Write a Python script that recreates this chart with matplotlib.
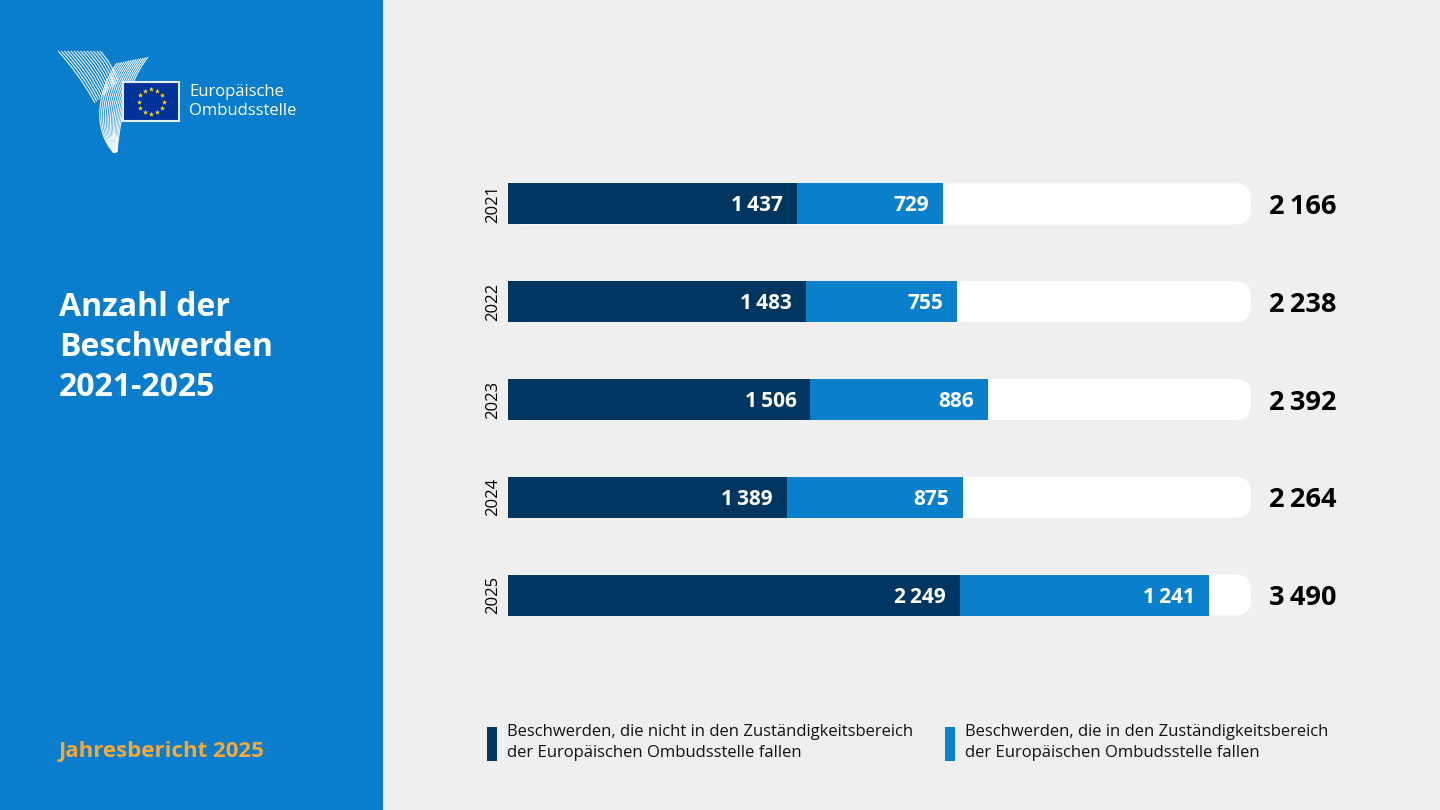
import matplotlib
matplotlib.use("Agg")
import matplotlib.pyplot as plt
from matplotlib.patches import Rectangle, FancyBboxPatch, PathPatch
from matplotlib.path import Path
import numpy as np

# ---------------- data ----------------
years = ["2021", "2022", "2023", "2024", "2025"]
outside_scope = [1437, 1483, 1506, 1389, 2249]   # not within remit
inside_scope = [729, 755, 886, 875, 1241]         # within remit
totals = [a + b for a, b in zip(outside_scope, inside_scope)]

title_lines = ["Anzahl der", "Beschwerden", "2021-2025"]
footer = "Jahresbericht 2025"
logo_lines = ["Europäische", "Ombudsstelle"]
legend_labels = [
    "Beschwerden, die nicht in den Zuständigkeitsbereich\nder Europäischen Ombudsstelle fallen",
    "Beschwerden, die in den Zuständigkeitsbereich\nder Europäischen Ombudsstelle fallen",
]

# ---------------- style ----------------
W, H = 1440, 810
BG = "#efefef"
PANEL = "#0a7dcd"
DARK = "#00365f"
LIGHT = "#0a7fcc"
ORANGE = "#f2a93b"
FONT = ["Open Sans", "DejaVu Sans"]
XMAX = 3700

plt.rcParams["font.family"] = FONT


def fmt(v):
    return f"{v:,}".replace(",", "\u2009")


def lerp(a, b, t):
    return (a[0] + (b[0] - a[0]) * t, a[1] + (b[1] - a[1]) * t)


fig = plt.figure(figsize=(W / 100, H / 100), dpi=100)
fig.patch.set_facecolor(BG)

# overlay axes in pixel coordinates for decoration
deco = fig.add_axes([0, 0, 1, 1])
deco.set_xlim(0, W)
deco.set_ylim(H, 0)
deco.axis("off")
deco.add_patch(Rectangle((0, 0), 383, H, facecolor=PANEL, edgecolor="none"))

# ---- logo swoosh ----
n = 14
# left wing: straight-ish ribbon from top-left down to the stem
for i in range(n):
    t = i / (n - 1)
    p0 = lerp((58, 51), (100, 51), t)
    p2 = lerp((95, 103), (118, 82), t)
    c = ((p0[0] + p2[0]) / 2 + 3, (p0[1] + p2[1]) / 2 - 3)
    deco.add_patch(PathPatch(Path([p0, c, p2], [Path.MOVETO, Path.CURVE3, Path.CURVE3]),
                             facecolor="none", edgecolor="white", lw=0.8, alpha=0.95))
# right wing turning into the stem
for i in range(n):
    t = i / (n - 1)
    p0 = lerp((117, 63), (148, 57), t)
    c1 = lerp((92, 100), (124, 88), t)
    c2 = lerp((97, 135), (119, 130), t)
    p3 = lerp((114, 153), (117, 152), t)
    deco.add_patch(PathPatch(Path([p0, c1, c2, p3],
                                  [Path.MOVETO, Path.CURVE4, Path.CURVE4, Path.CURVE4]),
                             facecolor="none", edgecolor="white", lw=0.8, alpha=0.95))
# EU flag
deco.add_patch(Rectangle((123, 82), 56, 39, facecolor="#003399", edgecolor="#dfefff", lw=1.5))
ang = np.linspace(0, 2 * np.pi, 13)[:-1]
deco.scatter(151 + 12.5 * np.cos(ang), 101.5 + 12.5 * np.sin(ang), marker="*", s=16,
             color="#ffdd00", linewidths=0, zorder=5)
for k, line in enumerate(logo_lines):
    fig.text(189 / W, 1 - (92 + 19 * k) / H, line, color="white", fontsize=12,
             ha="left", va="center")

# ---- title / footer ----
for k, line in enumerate(title_lines):
    fig.text(59 / W, 1 - (307 + 40 * k) / H, line, color="white", fontsize=23,
             fontweight="bold", ha="left", va="center")
fig.text(59 / W, 1 - 752 / H, footer, color=ORANGE, fontsize=16, fontweight="bold",
         ha="left", va="center")

# ---- main bar axes ----
ax_left, ax_right = 508, 1251
ax_top, ax_bot = 155.1, 643.9
ax = fig.add_axes([ax_left / W, 1 - ax_bot / H, (ax_right - ax_left) / W, (ax_bot - ax_top) / H])
ax.set_xlim(0, XMAX)
ax.set_ylim(len(years) - 0.5, -0.5)
ax.axis("off")
ax.patch.set_alpha(0)

bar_h = 41 / ((ax_bot - ax_top) / len(years))
ypos = np.arange(len(years))
px_x = XMAX / (ax_right - ax_left)
px_y = 1 / ((ax_bot - ax_top) / len(years))
radius_px = 16
for y in ypos:
    ax.add_patch(FancyBboxPatch((0, y - bar_h / 2), XMAX, bar_h,
                                boxstyle=f"round,pad=0,rounding_size={radius_px * px_x}",
                                mutation_aspect=px_y / px_x,
                                facecolor="white", edgecolor="none", zorder=1))

ax.barh(ypos, outside_scope, height=bar_h, color=DARK, zorder=2)
ax.barh(ypos, inside_scope, left=outside_scope, height=bar_h, color=LIGHT, zorder=2)

for y, a, b, tot, yr in zip(ypos, outside_scope, inside_scope, totals, years):
    ax.annotate(fmt(a), (a, y), xytext=(-14, -2), textcoords="offset pixels",
                ha="right", va="center", color="white", fontsize=15, fontweight="bold", zorder=3)
    ax.annotate(fmt(b), (a + b, y), xytext=(-14, -2), textcoords="offset pixels",
                ha="right", va="center", color="white", fontsize=15, fontweight="bold", zorder=3)
    ax.annotate(fmt(tot), (XMAX, y), xytext=(85, -3), textcoords="offset pixels",
                ha="right", va="center", color="black", fontsize=19.5, fontweight="bold")
    ax.annotate(yr, (0, y), xytext=(-15, 0), textcoords="offset pixels",
                ha="center", va="center", color="black", fontsize=12, rotation=90)

# ---- legend ----
for (lx, col, lab) in zip([487, 945], [DARK, LIGHT], legend_labels):
    deco.add_patch(Rectangle((lx, 727), 10, 34, facecolor=col, edgecolor="none"))
    l1, l2 = lab.split("\n")
    fig.text((lx + 20) / W, 1 - 732 / H, l1, fontsize=12,
             color="#111111", ha="left", va="center")
    fig.text((lx + 20) / W, 1 - 753 / H, l2, fontsize=12,
             color="#111111", ha="left", va="center")

fig.savefig("out.png", dpi=100, facecolor=BG)
